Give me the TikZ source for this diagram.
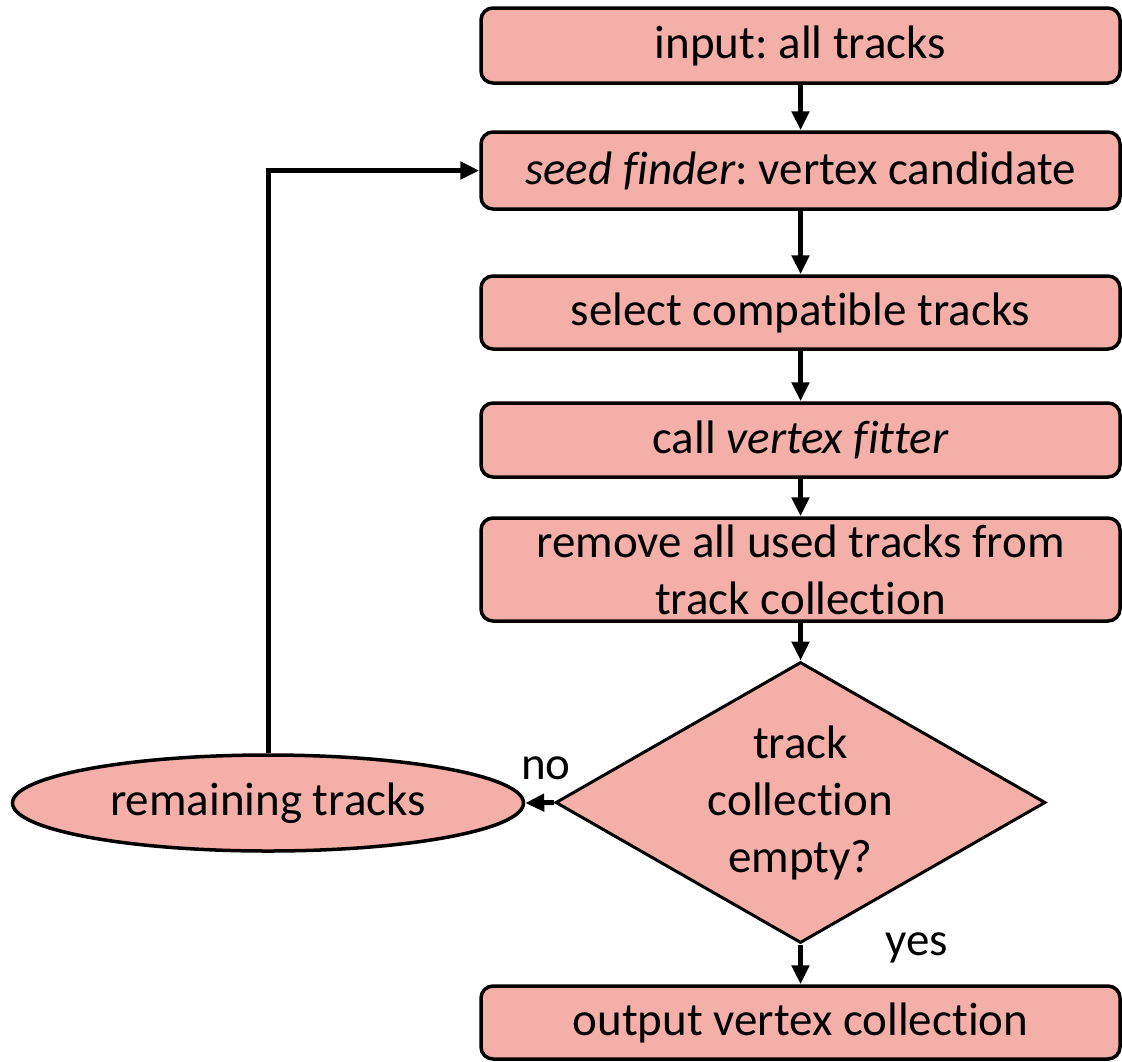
\documentclass[tikz,border=0pt]{standalone}
\usepackage{fontspec}
\setmainfont{Carlito}[Ligatures=NoCommon]
\usetikzlibrary{shapes.geometric,arrows.meta}
\definecolor{boxfill}{RGB}{244,176,168}
\frenchspacing
\begin{document}
\begin{tikzpicture}[x=1pt,y=-1pt,
  txt/.style={font=\fontsize{47}{57}\selectfont},
  box/.style={txt,draw=black,line width=3.5pt,fill=boxfill,rounded corners=12pt,
    minimum width=639pt,minimum height=#1,inner sep=0pt,align=center},
  dec/.style={txt,draw=black,line width=3pt,fill=boxfill,diamond,aspect=1.74,
    minimum width=490pt,minimum height=281pt,inner sep=0pt,align=center},
  oval/.style={txt,draw=black,line width=3.5pt,fill=boxfill,ellipse,
    minimum width=511pt,minimum height=96pt,inner sep=0pt},
  arr/.style={line width=5pt,-{Triangle[length=19pt,width=17pt]}},
  lbl/.style={txt}]
\useasboundingbox (0,0) rectangle (1122,1061);
\node[box=75pt] (b1) at (800.5,45.5) {input: all tracks};
\node[box=77pt] (b2) at (800.5,170.5) {\textit{seed finder}: vertex candidate};
\node[box=73pt] (b3) at (800.5,312.5) {select compatible tracks};
\node[box=74pt] (b4) at (800.5,440) {call \textit{vertex fitter}};
\node[box=103pt] (b5) at (800.5,569.5) {remove all used tracks from\\track collection};
\node[dec] (d) at (800.5,802.5) {track\\collection\\empty?};
\node[oval] (e) at (268,803) {remaining tracks};
\node[box=73pt] (b6) at (800.5,1022.5) {output vertex collection};
\node[lbl] (no) at (546,768) {no};
\node[lbl] (yes) at (917,948) {yes};
\draw[arr] (b1) -- (b2);
\draw[arr] (b2) -- (b3);
\draw[arr] (b3) -- (b4);
\draw[arr] (b4) -- (b5);
\draw[arr] (b5.south) -- (d.north);
\draw[arr] (d.south) -- (b6.north);
\draw[arr] (d.west) -- (e.east);
\draw[arr] (e.north) |- (b2.west);
\end{tikzpicture}
\end{document}
